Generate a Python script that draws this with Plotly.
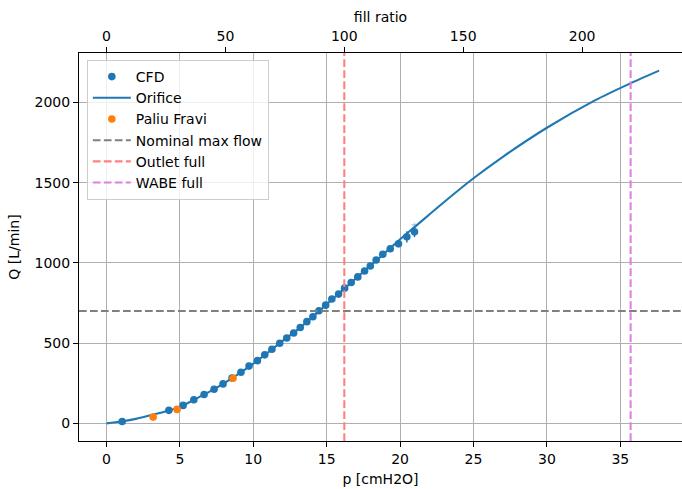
import plotly.graph_objects as go

# ---------------- data ----------------
cfd_p = [1.07, 4.25, 5.22, 5.95, 6.65, 7.33, 7.94, 8.55, 9.16, 9.71, 10.28, 10.78,
         11.27, 11.80, 12.28, 12.75, 13.20, 13.65, 14.06, 14.47, 14.93, 15.35, 15.81,
         16.22, 16.67, 17.12, 17.58, 17.97, 18.37, 18.82, 19.33, 19.89, 20.46, 20.98]
cfd_q = [12, 81, 112, 147, 180, 213, 246, 282, 319, 357, 391, 427,
         462, 499, 532, 563, 598, 634, 665, 702, 737, 775, 806,
         843, 878, 913, 950, 981, 1018, 1054, 1089, 1120, 1163, 1194]
cfd_qerr = [0] * 30 + [15, 22, 35, 33]
cfd_perr = [0] * 30 + [0.08, 0.1, 0.15, 0.18]

faint_p = [20.98]
faint_q = [1238]
faint_qerr = [14]
faint_perr = [0.2]

orifice_p = [0, 1, 2, 3, 4, 5, 6, 7, 8, 9, 10, 11, 12, 13, 14, 15, 16, 17, 18, 19, 20,
             21, 23, 25, 27, 30, 33.3, 35.6, 37.64]
orifice_q = [0, 11, 28, 50, 74, 103, 149, 196, 249, 308, 372, 442, 514, 583, 660, 742,
             823, 905, 985, 1065, 1148, 1225, 1380, 1528, 1662, 1843, 2015, 2116, 2199]

paliu_p = [3.18, 4.81, 8.62]
paliu_q = [39, 87, 281]

nominal_max_flow = 700
outlet_full_p = 16.2
wabe_full_p = 35.7

xtick_vals = [0, 5, 10, 15, 20, 25, 30, 35]
ytick_vals = [0, 500, 1000, 1500, 2000]
top_tick_vals = [0, 50, 100, 150, 200]

# ---------------- figure ----------------
FONT = "DejaVu Sans"
FS = 14
LW = 2.08
BLUE = "#1f77b4"
ORANGE = "#ff7f0e"
DASH = "7.7px,3.3px"

x_range = [-1.87, 39.2]
y_range = [-110, 2309]

fig = go.Figure()

fig.add_trace(go.Scatter(
    x=cfd_p, y=cfd_q, mode="markers", name="CFD",
    marker=dict(color=BLUE, size=7.6, line=dict(width=0)),
    error_y=dict(type="data", array=cfd_qerr, color=BLUE, thickness=1.5, width=0),
    error_x=dict(type="data", array=cfd_perr, color=BLUE, thickness=1.5, width=0),
    legendrank=1,
))
fig.add_trace(go.Scatter(
    x=faint_p, y=faint_q, mode="markers", showlegend=False,
    marker=dict(color="rgba(31,119,180,0)", size=1),
    error_y=dict(type="data", array=faint_qerr, color="rgba(31,119,180,0.3)", thickness=1.5, width=0),
    error_x=dict(type="data", array=faint_perr, color="rgba(31,119,180,0.3)", thickness=1.5, width=0),
    hoverinfo="skip",
))
fig.add_trace(go.Scatter(
    x=orifice_p, y=orifice_q, mode="lines", name="Orifice",
    line=dict(color=BLUE, width=LW, shape="spline", smoothing=0.8),
    legendrank=2,
))
fig.add_trace(go.Scatter(
    x=paliu_p, y=paliu_q, mode="markers", name="Paliu Fravi",
    marker=dict(color=ORANGE, size=7.6, line=dict(width=0)),
    legendrank=3,
))
# invisible trace to carry the top axis
fig.add_trace(go.Scatter(
    x=[0], y=[0], xaxis="x2", mode="markers", showlegend=False,
    marker=dict(opacity=0), hoverinfo="skip",
))

fig.add_shape(type="line", xref="x domain", yref="y", x0=0, x1=1,
              y0=nominal_max_flow, y1=nominal_max_flow,
              line=dict(color="#808080", width=LW, dash=DASH),
              showlegend=True, name="Nominal max flow", legendrank=4)
fig.add_shape(type="line", xref="x", yref="y domain", x0=outlet_full_p, x1=outlet_full_p,
              y0=0, y1=1, line=dict(color="#ff8080", width=LW, dash=DASH),
              showlegend=True, name="Outlet full", legendrank=5)
fig.add_shape(type="line", xref="x", yref="y domain", x0=wabe_full_p, x1=wabe_full_p,
              y0=0, y1=1, line=dict(color="#df80df", width=LW, dash=DASH),
              showlegend=True, name="WABE full", legendrank=6)

axis_common = dict(
    showline=True, linecolor="black", linewidth=1.1,
    ticks="outside", ticklen=5, tickwidth=1.1, tickcolor="black",
    zeroline=False, tickfont=dict(family=FONT, size=FS, color="black"),
    automargin=False,
)

fig.update_layout(
    width=682, height=489,
    margin=dict(l=79, r=0, t=53, b=48, autoexpand=False),
    paper_bgcolor="white", plot_bgcolor="white",
    font=dict(family=FONT, size=FS, color="black"),
    xaxis=dict(
        range=x_range, tickvals=xtick_vals,
        showgrid=True, gridcolor="#b0b0b0", gridwidth=1.1,
        title=dict(text="p [cmH2O]", font=dict(family=FONT, size=FS), standoff=8),
        **axis_common,
    ),
    xaxis2=dict(
        overlaying="x", side="top",
        range=[v * 100 / outlet_full_p for v in x_range], tickvals=top_tick_vals,
        showgrid=False,
        title=dict(text="fill ratio", font=dict(family=FONT, size=FS), standoff=2),
        **axis_common,
    ),
    yaxis=dict(
        range=y_range, tickvals=ytick_vals,
        showgrid=True, gridcolor="#b0b0b0", gridwidth=1.1,
        title=dict(text="Q [L/min]", font=dict(family=FONT, size=FS), standoff=11),
        **axis_common,
    ),
    legend=dict(
        x=0.013, y=0.982, xanchor="left", yanchor="top",
        bgcolor="rgba(255,255,255,0.8)", bordercolor="#cccccc", borderwidth=1,
        font=dict(family=FONT, size=FS, color="black"),
        itemwidth=38, tracegroupgap=0,
    ),
    showlegend=True,
)

fig.write_html("out.html", config={"displayModeBar": False},
               post_script="document.body.style.margin='0';")
